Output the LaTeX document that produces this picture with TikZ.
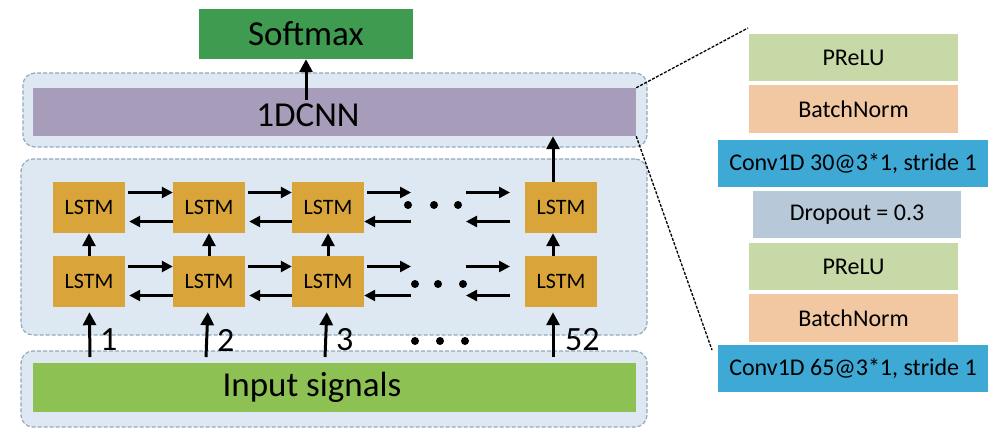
\documentclass[tikz,border=0pt]{standalone}
\usepackage{fontspec}
\setsansfont{Carlito}
\usepackage{tikz}
\usetikzlibrary{arrows.meta,shapes,backgrounds}
\definecolor{SoftGreen}{HTML}{3E9B50}
\definecolor{CnnPurple}{HTML}{A79DBA}
\definecolor{BoxBlue}{HTML}{DDE8F2}
\definecolor{BoxLine}{HTML}{8FA8BC}
\definecolor{LstmGold}{HTML}{D9A53B}
\definecolor{InGreen}{HTML}{8DC153}
\definecolor{PreluGreen}{HTML}{C6D9A6}
\definecolor{BnPeach}{HTML}{F1C8A1}
\definecolor{ConvBlue}{HTML}{3FA9D6}
\definecolor{DropGray}{HTML}{B7C9D9}

\begin{document}
\begin{tikzpicture}[x=1pt,y=-1pt]
    \sffamily

    \tikzset{BIG/.style={font=\fontsize{35}{40}\selectfont}}
    \tikzset{BAR/.style={rectangle,inner sep=0pt,minimum width=603pt,minimum height=48pt}}
    \tikzset{LS/.style={rectangle,fill=LstmGold,inner sep=0pt,minimum width=72pt,minimum height=51pt,font=\fontsize{22}{26}\selectfont}}
    \tikzset{LY/.style={rectangle,inner sep=0pt,minimum width=209pt,minimum height=47pt,font=\fontsize{24}{28}\selectfont}}
    \tikzset{CT/.style={rectangle,rounded corners=12pt,fill=BoxBlue,draw=BoxLine,line width=1.2pt,dash pattern=on 4pt off 2pt}}
    \tikzset{AR/.style={-{Triangle[length=13pt,width=13pt]},line width=3pt}}
    \tikzset{AH/.style={-{Triangle[length=11pt,width=11pt]},line width=2.5pt}}
    \tikzset{DOT/.style={circle,fill=black,inner sep=0pt,minimum size=8pt}}
    \tikzset{DL/.style={black,line width=1.3pt,dash pattern=on 3pt off 1.5pt}}
    \tikzset{NUM/.style={anchor=west,inner sep=0pt,font=\fontsize{34}{40}\selectfont}}

    \useasboundingbox (0,0) rectangle (1006,438);

    \node (sm) [BIG,fill=SoftGreen,inner sep=0pt,minimum width=214pt,minimum height=50pt] at (306,34) {Softmax};
    \node (cnn) [BAR,fill=CnnPurple] at (334.5,112) {};
    \node (cnnlbl) [BIG] at (308,115) {1DCNN};

    \node (l11) [LS] at (89,207.5) {LSTM};
    \node (l12) [LS] at (209,207.5) {LSTM};
    \node (l13) [LS] at (328,207.5) {LSTM};
    \node (l14) [LS] at (561,207.5) {LSTM};
    \node (l21) [LS] at (89,281.5) {LSTM};
    \node (l22) [LS] at (209,281.5) {LSTM};
    \node (l23) [LS] at (328,281.5) {LSTM};
    \node (l24) [LS] at (561,281.5) {LSTM};

    \node (p11) [DOT] at (408,205) {};
    \node (p12) [DOT] at (434,205) {};
    \node (p13) [DOT] at (458,205) {};
    \node (p21) [DOT] at (415,284) {};
    \node (p22) [DOT] at (438,284) {};
    \node (p23) [DOT] at (463,284) {};
    \node (p31) [DOT] at (415,341) {};
    \node (p32) [DOT] at (440,341) {};
    \node (p33) [DOT] at (465,341) {};

    \node (inp) [BAR,fill=InGreen,minimum height=49pt] at (334.5,387.5) {};
    \node (inlbl) [BIG] at (312,387) {Input signals};

    \node (n1) [NUM] at (100,340) {1};
    \node (n2) [NUM] at (217,340) {2};
    \node (n3) [NUM] at (336,340) {3};
    \node (n52) [NUM] at (565,340) {52};

    \node (pr1) [LY,fill=PreluGreen] at (853.5,58) {PReLU};
    \node (bn1) [LY,fill=BnPeach,minimum height=48pt] at (853.5,109) {BatchNorm};
    \node (cv1) [LY,fill=ConvBlue,minimum width=270pt] at (853,163.5) {Conv1D 30@3*1, stride 1};
    \node (dr) [LY,fill=DropGray,minimum width=208pt] at (857,215) {Dropout = 0.3};
    \node (pr2) [LY,fill=PreluGreen] at (853.5,266.5) {PReLU};
    \node (bn2) [LY,fill=BnPeach,minimum height=48pt] at (853.5,318) {BatchNorm};
    \node (cv2) [LY,fill=ConvBlue,minimum width=270pt] at (853,368.5) {Conv1D 65@3*1, stride 1};

    \coordinate (a1) at (411,207.5);
    \coordinate (c1) at (466,207.5);
    \coordinate (e1) at (510,207.5);
    \coordinate (a2) at (411,281.5);
    \coordinate (c2) at (466,281.5);
    \coordinate (e2) at (510,281.5);
    \coordinate (i1) at (90,357);
    \coordinate (i2) at (206,357);
    \coordinate (i3) at (325,357);
    \coordinate (i4) at (553,357);
    \coordinate (z1) at (748,28);
    \coordinate (z2) at (712,350);

    \begin{pgfonlayer}{background}
        \node (cnnbox) [CT,minimum width=624pt,minimum height=74pt] at (335,110) {};
        \node (lstmbox) [CT,minimum width=626pt,minimum height=176pt] at (334,247) {};
        \node (inbox) [CT,minimum width=626pt,minimum height=76pt] at (334,389) {};
        \draw[DL] (cnn.north east) -- (z1);
        \draw[DL] (cnn.south east) -- (z2);
    \end{pgfonlayer}

    % forward / backward links
    \draw[AH,shorten <=3pt] ([yshift=15pt]l11.east) -- ([yshift=15pt]l12.west);
    \draw[AH,shorten >=4pt] ([yshift=-14pt]l12.west) -- ([yshift=-14pt]l11.east);
    \draw[AH,shorten <=3pt] ([yshift=15pt]l12.east) -- ([yshift=15pt]l13.west);
    \draw[AH,shorten >=4pt] ([yshift=-14pt]l13.west) -- ([yshift=-14pt]l12.east);
    \draw[AH,shorten <=3pt] ([yshift=15pt]l13.east) -- ([yshift=15pt]a1);
    \draw[AH] ([yshift=-14pt]a1) -- ([yshift=-14pt]l13.east);
    \draw[AH] ([yshift=15pt]c1) -- ([yshift=15pt]e1);
    \draw[AH] ([yshift=-14pt]e1) -- ([yshift=-14pt]c1);

    \draw[AH,shorten <=3pt] ([yshift=15pt]l21.east) -- ([yshift=15pt]l22.west);
    \draw[AH,shorten >=4pt] ([yshift=-14pt]l22.west) -- ([yshift=-14pt]l21.east);
    \draw[AH,shorten <=3pt] ([yshift=15pt]l22.east) -- ([yshift=15pt]l23.west);
    \draw[AH,shorten >=4pt] ([yshift=-14pt]l23.west) -- ([yshift=-14pt]l22.east);
    \draw[AH,shorten <=3pt] ([yshift=15pt]l23.east) -- ([yshift=15pt]a2);
    \draw[AH] ([yshift=-14pt]a2) -- ([yshift=-14pt]l23.east);
    \draw[AH] ([yshift=15pt]c2) -- ([yshift=15pt]e2);
    \draw[AH] ([yshift=-14pt]e2) -- ([yshift=-14pt]c2);

    % layers up
    \draw[AR] (l21) -- (l11);
    \draw[AR] (l22) -- (l12);
    \draw[AR] (l23) -- (l13);
    \draw[AR] ([xshift=-8pt]l24.north) -- ([xshift=-8pt]l14.south);
    \draw[AR] ([xshift=-8pt]l14.north) -- ([xshift=-8pt]l14.north |- cnn.south);
    \draw[AR] (cnnlbl.north -| sm.south) -- (sm.south);

    \draw[AR,shorten >=5pt] (i1) -- (l21);
    \draw[AR,shorten >=5pt] (i2) -- (l22);
    \draw[AR,shorten >=5pt] (i3) -- (l23);
    \draw[AR,shorten >=5pt] (i4) -- ([xshift=-8pt]l24.south);
\end{tikzpicture}
\end{document}
